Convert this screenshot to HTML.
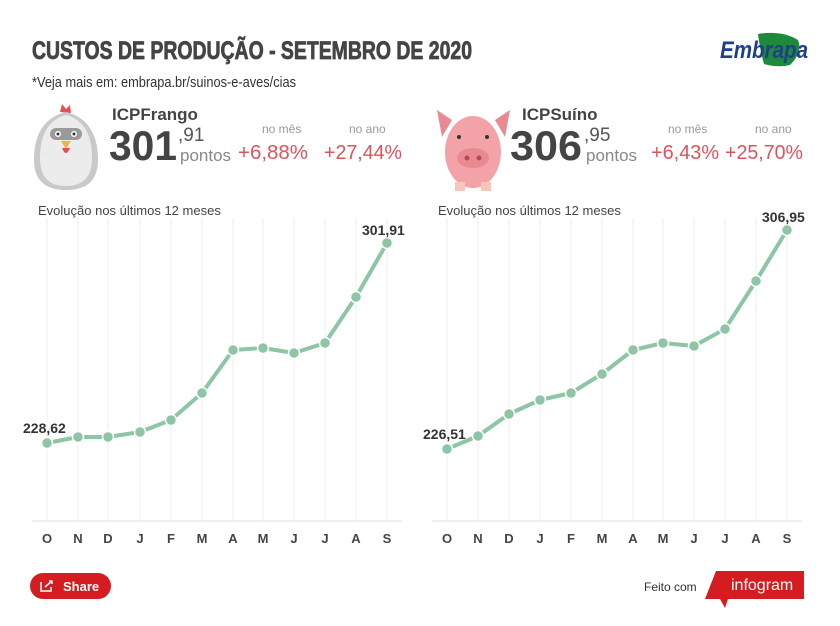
<!DOCTYPE html>
<html><head><meta charset="utf-8"><style>
html,body{margin:0;padding:0;background:#fff;}
body{width:840px;height:621px;overflow:hidden;font-family:"Liberation Sans",sans-serif;}
</style></head><body>
<svg width="840" height="621" viewBox="0 0 840 621" xmlns="http://www.w3.org/2000/svg" font-family="Liberation Sans, sans-serif">
<text x="32" y="59" font-size="25" font-weight="bold" fill="#444" stroke="#444" stroke-width="0.8" textLength="440" lengthAdjust="spacingAndGlyphs">CUSTOS DE PRODUÇÃO - SETEMBRO DE 2020</text>
<text x="32" y="87" font-size="15" fill="#333" textLength="264" lengthAdjust="spacingAndGlyphs">*Veja mais em: embrapa.br/suinos-e-aves/cias</text>
<!-- Embrapa logo -->
<path d="M758 34 Q782 30 798 40 Q803 52 790 65 Q778 68 764 64 Q760 50 758 34 Z" fill="#1c8a3a"/>
<text x="720" y="58" font-size="24" font-weight="bold" font-style="italic" fill="#1f3f8c" textLength="88" lengthAdjust="spacingAndGlyphs">Embrapa</text>
<!-- chicken -->
<path d="M60 112 L62 104 L66 109 L70 105 L71 113 Z" fill="#e2505a"/>
<path d="M66 112 Q98 120 98 160 Q98 190 66 190 Q34 190 34 160 Q34 120 66 112 Z" fill="#c9c9c9"/>
<path d="M66 115 Q92 122 92 158 Q92 186 66 186 Q40 186 40 158 Q40 122 66 115 Z" fill="#ececec"/>
<rect x="50" y="128" width="32" height="12" rx="6" fill="#9a9a9a"/>
<circle cx="58" cy="134" r="3" fill="#fff"/><circle cx="74" cy="134" r="3" fill="#fff"/>
<circle cx="58" cy="134" r="1.5" fill="#333"/><circle cx="74" cy="134" r="1.5" fill="#333"/>
<path d="M61 141 L71 141 L66 149 Z" fill="#f3b33d"/>
<path d="M62 148 Q66 158 70 148" fill="#e2505a"/>
<!-- pig -->
<path d="M437 110 L452 120 L442 137 Z" fill="#e98a91"/>
<path d="M510 110 L495 120 L505 137 Z" fill="#e98a91"/>
<ellipse cx="473" cy="152" rx="28" ry="36" fill="#f3a3a8"/>
<ellipse cx="473" cy="158" rx="16" ry="10" fill="#e98a91"/>
<circle cx="467" cy="158" r="2.5" fill="#b34a55"/><circle cx="479" cy="158" r="2.5" fill="#b34a55"/>
<circle cx="459" cy="137" r="2" fill="#333"/><circle cx="487" cy="137" r="2" fill="#333"/>
<rect x="455" y="182" width="10" height="9" fill="#f6c7b8"/><rect x="481" y="182" width="10" height="9" fill="#f6c7b8"/>
<!-- ICP Frango -->
<text x="112" y="120" font-size="17" font-weight="bold" fill="#444">ICPFrango</text>
<text x="109" y="160" font-size="42" font-weight="bold" fill="#444" textLength="68" lengthAdjust="spacingAndGlyphs">301</text>
<text x="178" y="141" font-size="19" fill="#555">,91</text>
<text x="180" y="161" font-size="17" fill="#888">pontos</text>
<text x="262" y="133" font-size="12" fill="#999">no mês</text>
<text x="238" y="159" font-size="20" fill="#e0525a" textLength="70" lengthAdjust="spacingAndGlyphs">+6,88%</text>
<text x="349" y="133" font-size="12" fill="#999">no ano</text>
<text x="324" y="159" font-size="20" fill="#e0525a" textLength="78" lengthAdjust="spacingAndGlyphs">+27,44%</text>
<!-- ICP Suino -->
<text x="522" y="120" font-size="17" font-weight="bold" fill="#444">ICPSuíno</text>
<text x="510" y="160" font-size="42" font-weight="bold" fill="#444" textLength="72" lengthAdjust="spacingAndGlyphs">306</text>
<text x="584" y="141" font-size="19" fill="#555">,95</text>
<text x="586" y="161" font-size="17" fill="#888">pontos</text>
<text x="668" y="133" font-size="12" fill="#999">no mês</text>
<text x="651" y="159" font-size="20" fill="#e0525a" textLength="68" lengthAdjust="spacingAndGlyphs">+6,43%</text>
<text x="755" y="133" font-size="12" fill="#999">no ano</text>
<text x="725" y="159" font-size="20" fill="#e0525a" textLength="78" lengthAdjust="spacingAndGlyphs">+25,70%</text>
<text x="38" y="215" font-size="13" fill="#444">Evolução nos últimos 12 meses</text>
<text x="438" y="215" font-size="13" fill="#444">Evolução nos últimos 12 meses</text>
<g stroke="#ececec" stroke-width="1">
<path d="M47 218V521M78 218V521M108 218V521M140 218V521M171 218V521M202 218V521M233 218V521M263 218V521M294 218V521M325 218V521M356 218V521M387 218V521"/>
<path d="M447 218V521M478 218V521M509 218V521M540 218V521M571 218V521M602 218V521M633 218V521M663 218V521M694 218V521M725 218V521M756 218V521M787 218V521"/>
</g>
<path d="M32 521H402M432 521H802" stroke="#e2e2e2" stroke-width="1"/>
<g font-size="13" font-weight="bold" fill="#444" text-anchor="middle">
<text x="47" y="543">O</text><text x="78" y="543">N</text><text x="108" y="543">D</text><text x="140" y="543">J</text><text x="171" y="543">F</text><text x="202" y="543">M</text><text x="233" y="543">A</text><text x="263" y="543">M</text><text x="294" y="543">J</text><text x="325" y="543">J</text><text x="356" y="543">A</text><text x="387" y="543">S</text>
<text x="447" y="543">O</text><text x="478" y="543">N</text><text x="509" y="543">D</text><text x="540" y="543">J</text><text x="571" y="543">F</text><text x="602" y="543">M</text><text x="633" y="543">A</text><text x="663" y="543">M</text><text x="694" y="543">J</text><text x="725" y="543">J</text><text x="756" y="543">A</text><text x="787" y="543">S</text>
</g>
<g fill="none" stroke="#8dc5a5" stroke-width="4" stroke-linejoin="round">
<polyline points="47,443 78,437 108,437 140,432 171,420 202,393 233,350 263,348 294,353 325,343 356,297 387,243"/>
<polyline points="447,449 478,436 509,414 540,400 571,393 602,374 633,350 663,343 694,346 725,329 756,281 787,230"/>
</g>
<g fill="#8dc5a5" stroke="#fff" stroke-width="1.5">
<circle cx="47" cy="443" r="5.5"/><circle cx="78" cy="437" r="5.5"/><circle cx="108" cy="437" r="5.5"/><circle cx="140" cy="432" r="5.5"/><circle cx="171" cy="420" r="5.5"/><circle cx="202" cy="393" r="5.5"/><circle cx="233" cy="350" r="5.5"/><circle cx="263" cy="348" r="5.5"/><circle cx="294" cy="353" r="5.5"/><circle cx="325" cy="343" r="5.5"/><circle cx="356" cy="297" r="5.5"/><circle cx="387" cy="243" r="5.5"/>
<circle cx="447" cy="449" r="5.5"/><circle cx="478" cy="436" r="5.5"/><circle cx="509" cy="414" r="5.5"/><circle cx="540" cy="400" r="5.5"/><circle cx="571" cy="393" r="5.5"/><circle cx="602" cy="374" r="5.5"/><circle cx="633" cy="350" r="5.5"/><circle cx="663" cy="343" r="5.5"/><circle cx="694" cy="346" r="5.5"/><circle cx="725" cy="329" r="5.5"/><circle cx="756" cy="281" r="5.5"/><circle cx="787" cy="230" r="5.5"/>
</g>
<g font-size="14" font-weight="bold" fill="#333">
<text x="23" y="433">228,62</text>
<text x="362" y="235">301,91</text>
<text x="423" y="439">226,51</text>
<text x="762" y="222">306,95</text>
</g>
<!-- footer -->
<rect x="30" y="573" width="81" height="26" rx="13" fill="#d51d21"/>
<path d="M41 582v9h10v-4" stroke="#fff" stroke-width="1.5" fill="none"/><path d="M45 587l7-6m-3 0h3v3" stroke="#fff" stroke-width="1.5" fill="none"/>
<text x="63" y="591" font-size="13" font-weight="bold" fill="#fff">Share</text>
<text x="644" y="591" font-size="12" fill="#333">Feito com</text>
<path d="M716 571H804V599H728L725 608L720 599H705Z" fill="#d51d21"/>
<text x="731" y="590" font-size="16" fill="#fff">infogram</text>
</svg>
</body></html>
